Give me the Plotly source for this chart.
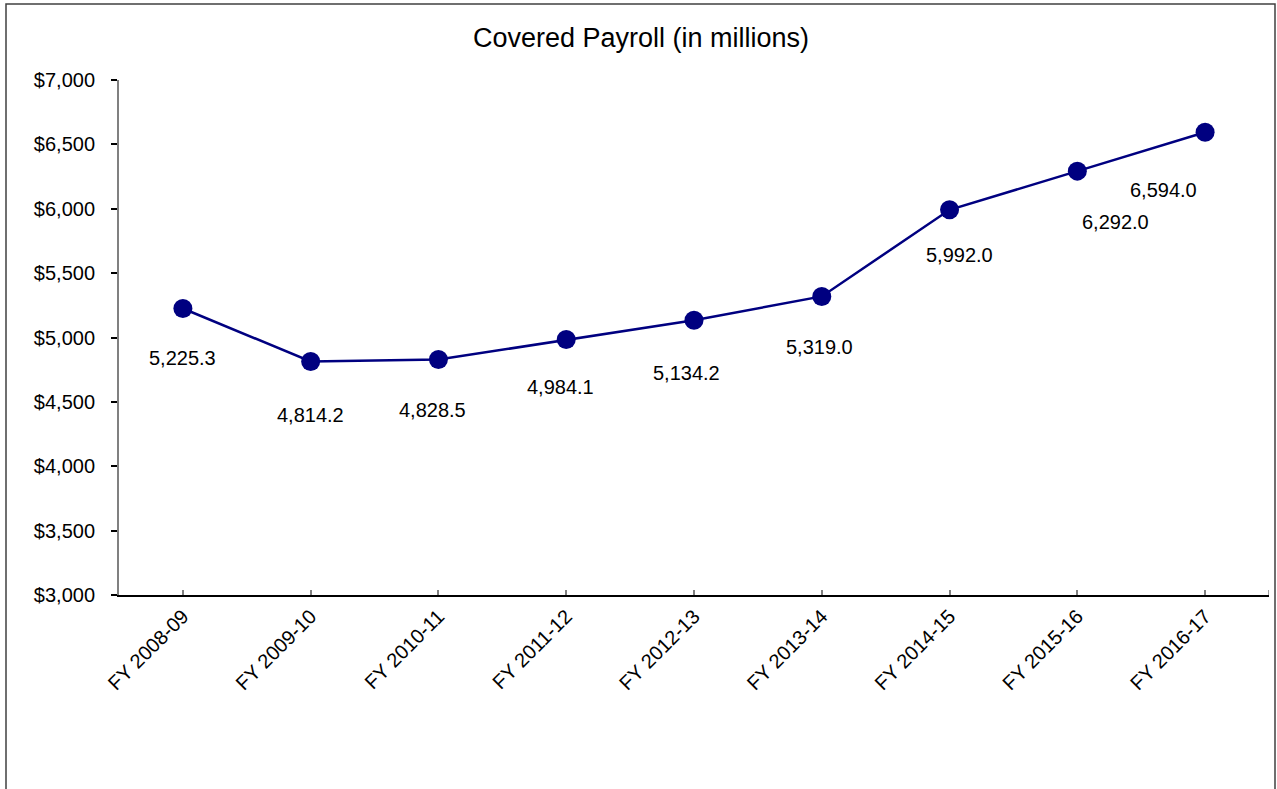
import plotly.graph_objects as go

categories = ["FY 2008-09", "FY 2009-10", "FY 2010-11", "FY 2011-12", "FY 2012-13",
              "FY 2013-14", "FY 2014-15", "FY 2015-16", "FY 2016-17"]
payroll = [5225.3, 4814.2, 4828.5, 4984.1, 5134.2, 5319.0, 5992.0, 6292.0, 6594.0]

# label offsets in pixels (style only): (dx, dy-down)
label_dx = [0, 0, -6, -6, -8, -2, 10, 38, -42]
label_dy = [50, 54, 50, 47, 53, 51, 45, 51, 58]

NAVY = "#000080"
FONT = "Liberation Sans, Arial, sans-serif"

fig = go.Figure()
fig.add_trace(go.Scatter(
    x=categories, y=payroll, mode="lines+markers",
    line=dict(color=NAVY, width=2.5),
    marker=dict(color=NAVY, size=19),
    hoverinfo="x+y", showlegend=False,
))

for c, v, dx, dy in zip(categories, payroll, label_dx, label_dy):
    fig.add_annotation(x=c, y=v, xref="x", yref="y", text=f"{v:,.1f}",
                       showarrow=False, xshift=dx, yshift=-dy,
                       font=dict(family=FONT, size=20, color="black"))

# end tick at the right edge of the category axis
fig.add_shape(type="line", xref="x", yref="y", x0=8.5, x1=8.5,
              ysizemode="pixel", yanchor=3000, y0=0, y1=5,
              line=dict(color="#808080", width=1.5))

# outer chart border
fig.add_shape(type="rect", xref="paper", yref="paper",
              x0=(6 - 119) / 1150, x1=(1275 - 119) / 1150,
              y0=(595 - 820) / 515, y1=(595 - 4) / 515,
              line=dict(color="#404040", width=1.5), fillcolor="rgba(0,0,0,0)",
              layer="below")

fig.update_layout(
    width=1277, height=789,
    margin=dict(l=119, r=8, t=80, b=194),
    paper_bgcolor="white", plot_bgcolor="white",
    font=dict(family=FONT, size=20, color="black"),
    title=dict(text="Covered Payroll (in millions)", x=641 / 1277, xanchor="center",
               yref="container", y=1 - 38 / 789, yanchor="middle",
               font=dict(family=FONT, size=27, color="black")),
    xaxis=dict(type="category", range=[-0.5, 8.5], showgrid=False, zeroline=False,
               showline=True, linecolor="black", linewidth=1.5,
               ticks="inside", ticklen=5, tickcolor="#808080", tickwidth=1.5,
               tickangle=-45, tickfont=dict(family=FONT, size=20, color="black")),
    yaxis=dict(range=[3000, 7000], dtick=500, tick0=3000, showgrid=False, zeroline=False,
               showline=True, linecolor="#808080", linewidth=2,
               ticks="outside", ticklen=6, tickcolor="black", tickwidth=1.5,
               tickprefix="$", tickformat=",.0f", ticklabelstandoff=12,
               tickfont=dict(family=FONT, size=20, color="black")),
)

fig.write_html("out.html", config={"displayModeBar": False},
               post_script="document.body.style.margin='0';")
